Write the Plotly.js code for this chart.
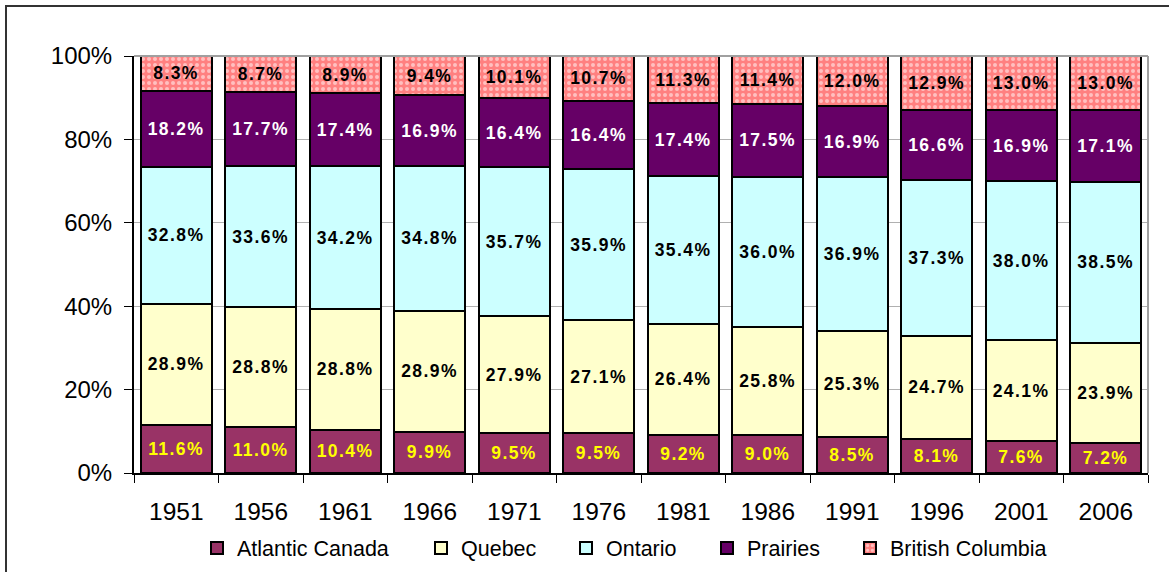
<!DOCTYPE html>
<html>
<head>
<meta charset="utf-8">
<script src="https://cdn.plot.ly/plotly-3.0.1.min.js"></script>
<style>
  html, body { margin: 0; padding: 0; background: #fff; }
  #wrap { position: relative; width: 1169px; height: 572px; overflow: hidden; }
  #chart { position: absolute; left: 0; top: 0; width: 1169px; height: 572px; }
  #frame { position: absolute; left: 5px; top: 5px; width: 1300px; height: 700px;
           border-left: 2px solid #333; border-top: 2px solid #333; pointer-events: none; }
  #chart .bars text { letter-spacing: 1.4px; }
</style>
</head>
<body>
<div id="wrap"><div id="chart"></div><div id="frame"></div></div>
<script>
const years = ['1951','1956','1961','1966','1971','1976','1981','1986','1991','1996','2001','2006'];
const atlantic = [11.6, 11.0, 10.4, 9.9, 9.5, 9.5, 9.2, 9.0, 8.5, 8.1, 7.6, 7.2];
const quebec   = [28.9, 28.8, 28.8, 28.9, 27.9, 27.1, 26.4, 25.8, 25.3, 24.7, 24.1, 23.9];
const ontario  = [32.8, 33.6, 34.2, 34.8, 35.7, 35.9, 35.4, 36.0, 36.9, 37.3, 38.0, 38.5];
const prairies = [18.2, 17.7, 17.4, 16.9, 16.4, 16.4, 17.4, 17.5, 16.9, 16.6, 16.9, 17.1];
const bc       = [8.3, 8.7, 8.9, 9.4, 10.1, 10.7, 11.3, 11.4, 12.0, 12.9, 13.0, 13.0];
const seriesNames = ['Atlantic Canada', 'Quebec', 'Ontario', 'Prairies', 'British Columbia'];
const yTicks = [0, 20, 40, 60, 80, 100];
const yTickText = ['0%', '20%', '40%', '60%', '80%', '100%'];

const lbl = v => v.map(x => x.toFixed(1) + '%');
const font = 'Arial, "Liberation Sans", sans-serif';

function mk(name, vals, color, textColor, legendId, pattern) {
  const t = {
    type: 'bar', name: name, x: years, y: vals, legend: legendId,
    text: lbl(vals), textposition: 'inside', insidetextanchor: 'middle',
    constraintext: 'none', cliponaxis: false,
    textfont: { family: font, size: 17.5, color: textColor, weight: 'bold' },
    marker: { color: color, line: { color: '#000', width: 2 } },
    hoverinfo: 'skip'
  };
  if (pattern) t.marker.pattern = pattern;
  return t;
}

const data = [
  mk(seriesNames[0], atlantic, '#993366', '#FFFF00', 'legend'),
  mk(seriesNames[1], quebec, '#FFFFCC', '#000000', 'legend2'),
  mk(seriesNames[2], ontario, '#CCFFFF', '#000000', 'legend3'),
  mk(seriesNames[3], prairies, '#660066', '#FFFFFF', 'legend4'),
  mk(seriesNames[4], bc, '#FF8080', '#000000', 'legend5',
     { shape: '.', fillmode: 'overlay', fgcolor: '#FFFFFF', bgcolor: '#FF8080', size: 6, solidity: 0.35 })
];

function leg(px) {
  return {
    orientation: 'h', xref: 'container', x: (px - 20) / 1169, xanchor: 'left',
    yref: 'container', y: 0.042, yanchor: 'middle',
    font: { family: font, size: 21.5, color: '#000' },
    itemwidth: 30, bgcolor: 'rgba(0,0,0,0)'
  };
}

const layout = {
  width: 1169, height: 572,
  margin: { l: 134, r: 21, t: 56, b: 99, autoexpand: false },
  paper_bgcolor: '#fff', plot_bgcolor: '#fff',
  barmode: 'stack', barnorm: 'percent', bargap: 0.16,
  showlegend: true,
  legend: leg(217), legend2: leg(441), legend3: leg(586), legend4: leg(727), legend5: leg(870),
  xaxis: {
    type: 'category', tickson: 'boundaries', ticks: 'outside', ticklen: 8, tickcolor: '#000',
    showline: true, linecolor: '#000', linewidth: 1.5,
    tickfont: { family: font, size: 24.5, color: '#000' },
    ticklabelstandoff: 16,
    showgrid: false, fixedrange: true
  },
  yaxis: {
    range: [0, 100], tickvals: yTicks, ticktext: yTickText,
    ticks: 'outside', ticklen: 8, tickcolor: '#000',
    showline: true, linecolor: '#000', linewidth: 2,
    showgrid: true, gridcolor: '#b0b0b0', gridwidth: 1,
    tickfont: { family: font, size: 24, color: '#000' },
    ticklabelstandoff: 7,
    zeroline: false, fixedrange: true
  },
  shapes: [
    { type: 'line', xref: 'paper', yref: 'paper', x0: 0, x1: 1, y0: 1, y1: 1, line: { color: '#a0a0a0', width: 2 } },
    { type: 'line', xref: 'paper', yref: 'paper', x0: 1, x1: 1, y0: 0, y1: 1, line: { color: '#a0a0a0', width: 2 } }
  ]
};

Plotly.newPlot('chart', data, layout, { displayModeBar: false, staticPlot: true });
</script>
</body>
</html>
